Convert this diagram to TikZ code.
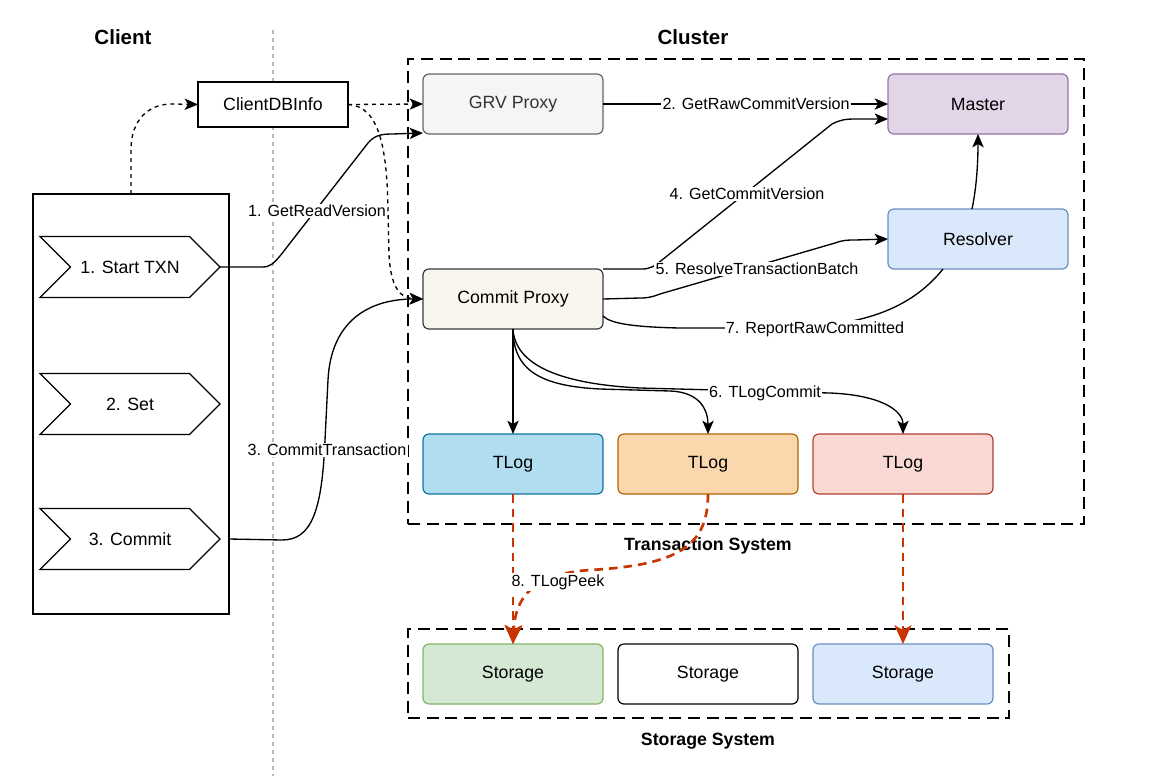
\documentclass[tikz,border=0pt]{standalone}
\usepackage{fontspec}
\setmainfont{Liberation Sans}
\usetikzlibrary{arrows.meta,shapes.symbols,calc}

\definecolor{grvfill}{HTML}{F5F5F5}
\definecolor{grvline}{HTML}{666666}
\definecolor{grvtext}{HTML}{333333}
\definecolor{masterfill}{HTML}{E1D5E7}
\definecolor{masterline}{HTML}{9673A6}
\definecolor{bluefill}{HTML}{DAE8FC}
\definecolor{blueline}{HTML}{6C8EBF}
\definecolor{cpfill}{HTML}{F9F7ED}
\definecolor{cpline}{HTML}{36393D}
\definecolor{tlogAfill}{HTML}{B1DDF0}
\definecolor{tlogAline}{HTML}{10739E}
\definecolor{tlogBfill}{HTML}{FAD7AC}
\definecolor{tlogBline}{HTML}{B46504}
\definecolor{tlogCfill}{HTML}{FAD9D5}
\definecolor{tlogCline}{HTML}{AE4132}
\definecolor{greenfill}{HTML}{D5E8D4}
\definecolor{greenline}{HTML}{82B366}
\definecolor{peekred}{HTML}{C73500}

\newcommand\fdbboxfont{\fontsize{13.3}{16}\selectfont}
\newcommand\fdblblfont{\fontsize{12.1}{14}\selectfont}

\begin{document}
\begin{tikzpicture}[x=0.75pt,y=-0.75pt]
\tikzset{
  FDB tip sizes/.style n args={3}{
    FDB Arrow/.tip={Stealth[length={#1}, width={#2}, inset={(#1)/4}]},
    FDB Big/.tip  ={Stealth[length={#3}, width={(#3)*0.9}, inset={(#3)/4}]}
  },
  FDB tip sizes={10pt}{8.5pt}{14pt},
  role/.style 2 args={draw=#2, fill=#1, line width=0.9pt, rounded corners=4.5pt,
    minimum width=135pt, minimum height=45pt, outer sep=0pt, font=\fdbboxfont},
  txn stepbox/.style={signal, signal to=east, signal from=west, signal pointer angle=90,
    draw, fill=white, line width=0.9pt, minimum width=135pt, minimum height=45.75pt,
    inner xsep=0pt, outer sep=0pt, font=\fdbboxfont},
  group box/.style={draw, line width=0.9pt, dash pattern=on 9pt off 5pt, outer sep=0pt},
  title/.style={font=\fontsize{15.4}{18}\bfseries\selectfont},
  group title/.style={font=\fontsize{13.3}{16}\bfseries\selectfont},
  plain/.style={draw, line width=1pt},
  flow/.style={plain, -FDB Arrow},
  link/.style={flow, dash pattern=on 3pt off 3pt},
  peek/.style={draw=peekred, line width=2pt, dash pattern=on 6.5pt off 4.5pt, -FDB Big},
  lbl/.style={fill=white, inner sep=1pt, font=\fdblblfont}
}
\useasboundingbox (0,0) rectangle (1150,776);

% client / cluster split
\draw[gray!55, line width=0.9pt, dash pattern=on 3pt off 3pt] (273,30) -- (273,776);
\node[title] (tclient) at (123,37) {Client};
\node[title] (tcluster) at (693,37) {Cluster};

% groups
\node[group box, minimum width=507pt, minimum height=348.75pt] (txnsys) at (746,291.5) {};
\node[group title] (ttxn) at (708,546) {Transaction System};
\node[group box, minimum width=450.75pt, minimum height=66.75pt] (storsys) at (708.5,673.5) {};
\node[group title] (tstor) at (708,741) {Storage System};

% client side
\node[draw, line width=0.9pt, minimum width=147pt, minimum height=315pt, outer sep=0pt] (client) at (131,404) {};
\node[txn stepbox] (start) at (130,267) {1. Start TXN};
\node[txn stepbox] (set) at (130,404) {2. Set};
\node[txn stepbox] (commit) at (130,539) {3. Commit};
\node[draw, fill=white, line width=0.9pt, minimum width=112.5pt, minimum height=33.75pt,
  outer sep=0pt, font=\fdbboxfont] (dbinfo) at (273,104.5) {ClientDBInfo};

% cluster roles
\node[role={grvfill}{grvline}, text=grvtext] (grv) at (513,104) {GRV Proxy};
\node[role={masterfill}{masterline}] (master) at (978,104) {Master};
\node[role={bluefill}{blueline}] (resolver) at (978,239) {Resolver};
\node[role={cpfill}{cpline}] (cproxy) at (513,299) {Commit Proxy};
\node[role={tlogAfill}{tlogAline}] (tlogA) at (513,464) {TLog};
\node[role={tlogBfill}{tlogBline}] (tlogB) at (708,464) {TLog};
\node[role={tlogCfill}{tlogCline}] (tlogC) at (903,464) {TLog};
\node[role={greenfill}{greenline}] (storA) at (513,674) {Storage};
\node[role={white}{black}] (storB) at (708,674) {Storage};
\node[role={bluefill}{blueline}] (storC) at (903,674) {Storage};

% cluster file
\draw[link] (client.north) -- (131,150) .. controls (131,120) and (148,104) .. (172,104) -- (dbinfo.west);
\draw[link] (dbinfo.east) -- (grv.west);
\draw[link] (dbinfo.east) .. controls (380,106) and (387,150) .. (388,210) -- (389,255)
  .. controls (391,288) and (400,298) .. (cproxy.west);

% client requests
\draw[flow] (start.east) -- (262,267) .. controls (270,267) and (273,264) .. (280,256) -- (368,143)
  .. controls (374,136) and (380,134) .. (392,134) -- ($(grv.south west)+(0,-1)$);
\node[lbl] (lread) at (317,211) {1. GetReadVersion};
\draw[flow] (client.east |- commit.east) -- (282,540) .. controls (312,540) and (322,510) .. (325,440)
  -- (328,380) .. controls (331,320) and (370,299) .. (cproxy.west);
\node[lbl] (lcommit) at (327,450) {3. CommitTransaction};

% commit path
\draw[flow] (grv.east) -- (master.west) node[lbl, pos=0.537] {2. GetRawCommitVersion};
\draw[flow] (cproxy.north east) -- (642,269) .. controls (650,269) and (655,266) .. (662,260) -- (832,124)
  .. controls (840,120) and (845,119) .. (855,119) -- ($(master.west)+(0,15)$);
\node[lbl] (lgcv) at (747,194) {4. GetCommitVersion};
\draw[flow] (cproxy.east) -- (640,298) .. controls (648,298) and (652,297) .. (660,294) -- (835,243)
  .. controls (843,240) and (848,240) .. (855,240) -- (resolver.west);
\node[lbl] (lres) at (757,269) {5. ResolveTransactionBatch};
\draw[plain] ($(resolver.south)+(-35,0)$) .. controls (910,310) and (860,327) .. (780,328) -- (680,328)
  .. controls (630,327) and (610,323) .. ($(cproxy.east)+(0,17)$);
\node[lbl] (lrep) at (815,329) {7. ReportRawCommitted};
\draw[flow] ($(resolver.north)+(-6,0)$) .. controls (977,185) and (978,160) .. (master.south);

% tlog commit
\draw[flow] (cproxy.south) -- (tlogA.north);
\draw[flow] (cproxy.south) .. controls (513,370) and (540,386) .. (600,389) -- (670,391)
  .. controls (700,392) and (708,410) .. (tlogB.north);
\draw[flow] (cproxy.south) .. controls (515,365) and (560,384) .. (640,388) -- (830,393)
  .. controls (880,395) and (903,410) .. (tlogC.north);
\node[lbl] (ltlog) at (765,393) {6. TLogCommit};

% storage pulls
\draw[peek] (tlogA.south) -- (storA.north);
\draw[peek] (tlogB.south) .. controls (708,545) and (680,565) .. (590,570)
  .. controls (530,574) and (515,600) .. (storA.north);
\node[lbl] (lpeek) at (558,582) {8. TLogPeek};
\draw[peek] (tlogC.south) -- (storC.north);
\end{tikzpicture}
\end{document}
